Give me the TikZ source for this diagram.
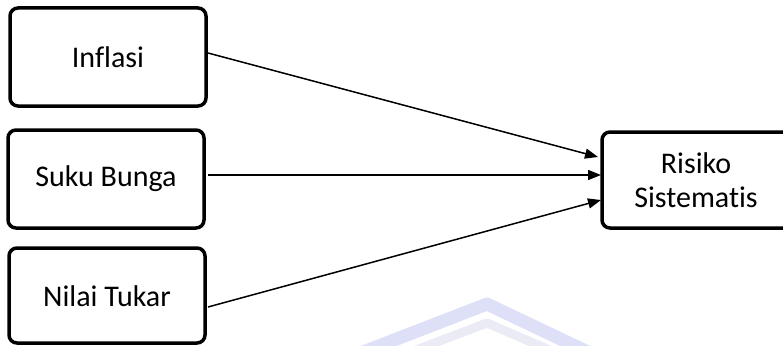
\documentclass[tikz,border=0pt]{standalone}
\usepackage{fontspec}
\setmainfont[Ligatures=NoCommon]{Carlito}
\usetikzlibrary{arrows.meta,calc}
\definecolor{wmA}{RGB}{222,224,247}
\definecolor{wmB}{RGB}{234,235,244}
\begin{document}
\begin{tikzpicture}[x=1pt,y=-1pt,
  box/.style={draw=black,line width=3.5pt,rounded corners=8pt,fill=white},
  lbl/.style={font=\fontsize{30}{34}\selectfont,align=center},
  conn/.style={line width=1.5pt,-{Triangle[length=13pt,width=10pt]}}]
\useasboundingbox (0,0) rectangle (783,345);
% faint watermark
\begin{scope}
\clip (0,0) rectangle (783,345);
\draw[wmA,line width=13pt,line join=round] (358,354) -- (487,304) -- (592,354);
\draw[wmB,line width=9pt,line join=round] (395,358) -- (487,323) -- (568,358);
\end{scope}
% boxes
\draw[box] (10,8) rectangle (206,106);
\node[lbl] (A) at (108,57) {Inflasi};
\draw[box] (8,130) rectangle (204,228);
\node[lbl] (B) at (106,179) {Suku Bunga};
\draw[box] (9,248) rectangle (205,343);
\node[lbl] (C) at (107,296) {Nilai Tukar};
\begin{scope}
\clip (0,0) rectangle (783,345);
\draw[box] (602,132) rectangle (792,228);
\end{scope}
\node[lbl] (D) at (696,180) {Risiko\\Sistematis};
% connector anchors
\coordinate (a1) at (208,53);
\coordinate (b1) at (208,175);
\coordinate (c1) at (208,307);
\coordinate (a2) at (598,157);
\coordinate (b2) at (601,175);
\coordinate (c2) at (601,200);
\draw[conn] (a1) -- (a2);
\draw[conn] (b1) -- (b2);
\draw[conn] (c1) -- (c2);
\end{tikzpicture}
\end{document}
